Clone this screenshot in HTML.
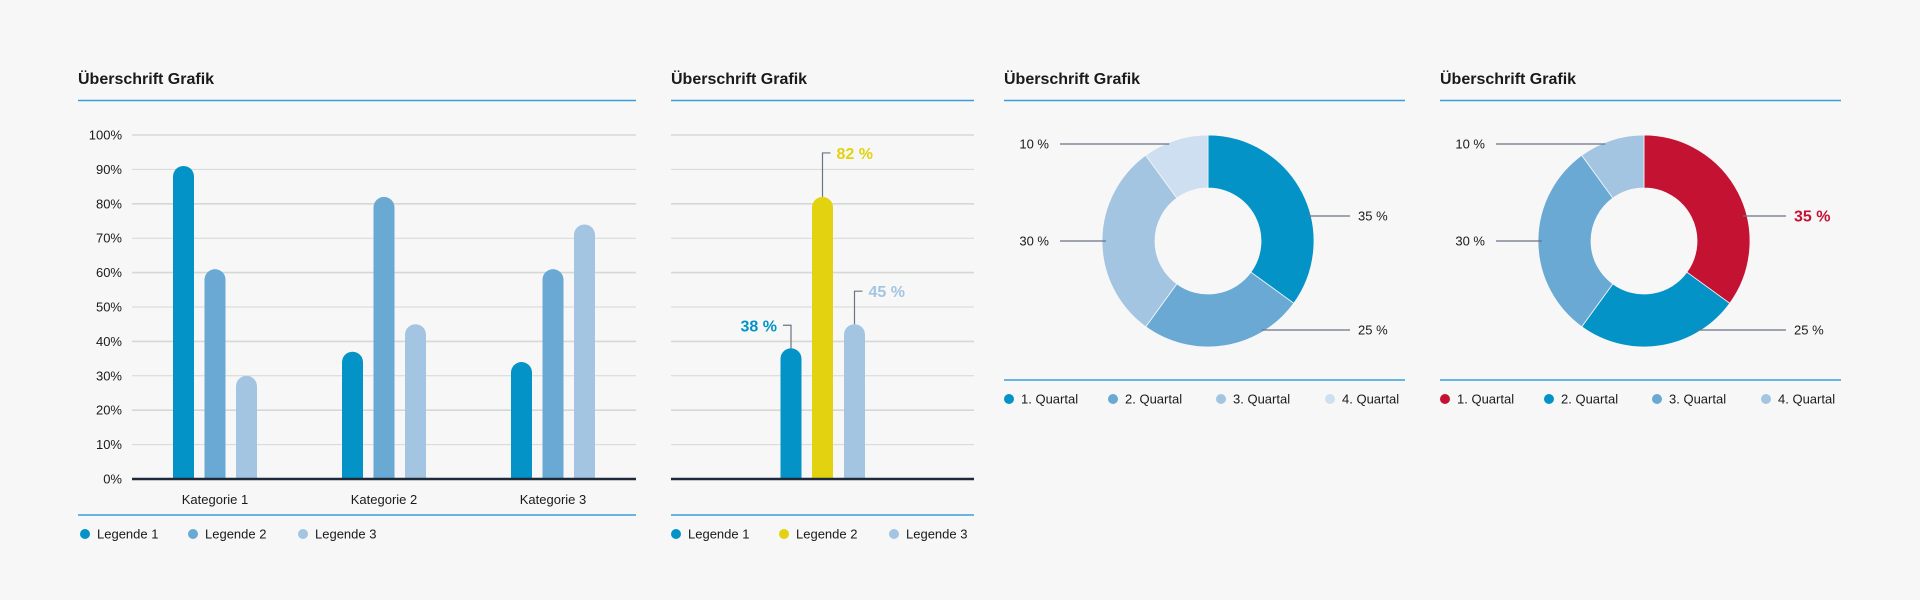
<!DOCTYPE html>
<html><head><meta charset="utf-8"><style>
html,body{margin:0;padding:0;background:#f7f7f7;}
svg{display:block;font-family:"Liberation Sans",sans-serif;}
</style></head><body>
<svg id="s" width="1920" height="600" viewBox="0 0 1920 600" xmlns="http://www.w3.org/2000/svg">
<rect width="1920" height="600" fill="#f7f7f7"/>
<g>
<text x="78" y="84" font-size="16" font-weight="bold" fill="#1a1a1a">Überschrift Grafik</text>
<line x1="78" y1="100.5" x2="636" y2="100.5" stroke="#3a9fd6" stroke-width="1.5"/>
</g>
<g>
<text x="671" y="84" font-size="16" font-weight="bold" fill="#1a1a1a">Überschrift Grafik</text>
<line x1="671" y1="100.5" x2="974" y2="100.5" stroke="#3a9fd6" stroke-width="1.5"/>
</g>
<g>
<text x="1004" y="84" font-size="16" font-weight="bold" fill="#1a1a1a">Überschrift Grafik</text>
<line x1="1004" y1="100.5" x2="1405" y2="100.5" stroke="#3a9fd6" stroke-width="1.5"/>
</g>
<g>
<text x="1440" y="84" font-size="16" font-weight="bold" fill="#1a1a1a">Überschrift Grafik</text>
<line x1="1440" y1="100.5" x2="1841" y2="100.5" stroke="#3a9fd6" stroke-width="1.5"/>
</g>
<g id="c1"></g>
<g id="c2"></g>
<g id="c3"></g>
<g id="c4"></g>
</svg>
<script>
const categories = ["Kategorie 1","Kategorie 2","Kategorie 3"];
const legend1 = ["Legende 1","Legende 2","Legende 3"];
const series1 = [91, 37, 34];
const series2 = [61, 82, 61];
const series3 = [30, 45, 74];
const yTicks = [0,10,20,30,40,50,60,70,80,90,100];
const bar2Values = [38, 82, 45];
const bar2Labels = ["38 %","82 %","45 %"];
const donutLabels = ["1. Quartal","2. Quartal","3. Quartal","4. Quartal"];
const donutValues = [35, 25, 30, 10];
const donutPctLabels = ["35 %","25 %","30 %","10 %"];

const NS = "http://www.w3.org/2000/svg";
function mk(parent, tag, attrs, text){
  const e = document.createElementNS(NS, tag);
  for (const k in attrs) e.setAttribute(k, attrs[k]);
  if (text !== undefined) e.textContent = text;
  parent.appendChild(e);
  return e;
}
const Y0 = 479, Y1 = 135;
function yScale(v){ return Y0 - (v/100)*(Y0-Y1); }
const blues = ["#0393c7","#69a9d4","#a3c5e2"];

function barPath(cx, w, v){
  const x = cx - w/2, top = yScale(v), r = w/2;
  return `M${x},${Y0} L${x},${top+r} A${r},${r} 0 0 1 ${x+w},${top+r} L${x+w},${Y0} Z`;
}
function grid(g, x1, x2){
  yTicks.forEach((t,i)=>{
    const l = mk(g,"line",{x1:x1,x2:x2,y1:yScale(t),y2:yScale(t),stroke:"#d6d8d6","stroke-width": (i%2===0?1.6:1)});
    
    
  });
}
function legend(g, labels, colors, xs, y, name){
  labels.forEach((lab,i)=>{
    const it = mk(g,"g",{});
    
    
    mk(it,"circle",{cx:xs[i],cy:y,r:5,fill:colors[i]});
    mk(it,"text",{x:xs[i]+12,y:y+4.5,"font-size":13,fill:"#1a1a1a"},lab);
  });
}

// Chart 1
(function(){
  const g = document.getElementById('c1');
  grid(g, 132, 636);
  yTicks.forEach(t=>{
    const tx = mk(g,"text",{x:122,y:yScale(t)+4.5,"text-anchor":"end","font-size":13,fill:"#1a1a1a"},t+"%");
    
    
  });
  const groupW = 169, c0 = 215, bw = 21, gap = 31.5;
  const all = [series1, series2, series3];
  categories.forEach((c,ci)=>{
    const cx = c0 + ci*groupW;
    all.forEach((s,si)=>{
      const p = mk(g,"path",{d:barPath(cx+(si-1)*gap,bw,s[ci]),fill:blues[si]});
      
      
    });
    const t = mk(g,"text",{x:cx,y:504,"text-anchor":"middle","font-size":13,fill:"#1a1a1a"},c);
    
    
  });
  const ax = mk(g,"line",{x1:132,x2:636,y1:Y0,y2:Y0,stroke:"#1e2a3a","stroke-width":2.5});
  
  
  const bl = mk(g,"line",{x1:78,x2:636,y1:515,y2:515,stroke:"#3a9fd6","stroke-width":1.5});
  
  
  legend(g, legend1, blues, [85,193,303], 534, 'chart1');
})();

// Chart 2
(function(){
  const g = document.getElementById('c2');
  grid(g, 671, 974);
  const cols = ["#0393c7","#e2d20f","#a3c5e2"];
  const xs = [791, 822.5, 854.5];
  const up = [23, 44, 33];
  bar2Values.forEach((v,i)=>{
    const p = mk(g,"path",{d:barPath(xs[i],21,v),fill:cols[i]});
    
    
    const top = yScale(v), ly = top - up[i];
    if (i===0){
      mk(g,"polyline",{points:`${xs[i]},${top} ${xs[i]},${ly} ${xs[i]-8},${ly}`,fill:"none",stroke:"#6b7385","stroke-width":1.2});
      const t = mk(g,"text",{x:xs[i]-14,y:ly+6,"text-anchor":"end","font-size":16,"font-weight":"bold",fill:cols[i]},bar2Labels[i]);
      
      
    } else {
      mk(g,"polyline",{points:`${xs[i]},${top} ${xs[i]},${ly} ${xs[i]+8},${ly}`,fill:"none",stroke:"#6b7385","stroke-width":1.2});
      const t = mk(g,"text",{x:xs[i]+14,y:ly+6,"font-size":16,"font-weight":"bold",fill:cols[i]},bar2Labels[i]);
      
      
    }
  });
  const ax = mk(g,"line",{x1:671,x2:974,y1:Y0,y2:Y0,stroke:"#1e2a3a","stroke-width":2.5});
  
  
  const bl = mk(g,"line",{x1:671,x2:974,y1:515,y2:515,stroke:"#3a9fd6","stroke-width":1.5});
  
  
  legend(g, legend1, cols, [676,784,894], 534, 'chart2');
})();

// Donuts
function donut(id, ox, colors, highlight){
  const g = document.getElementById(id);
  const cx = ox + 204, cy = 241, R = 106, r = 53;
  const labelY = [216, 330, 241, 144];
  const total = donutValues.reduce((a,b)=>a+b,0);
  let a0 = 0;
  const mids = [];
  donutValues.forEach((v,i)=>{
    const a1 = a0 + v/total*2*Math.PI;
    const pt = (rad,a)=>[cx+rad*Math.sin(a), cy-rad*Math.cos(a)];
    const [x1,y1]=pt(R,a0),[x2,y2]=pt(R,a1),[x3,y3]=pt(r,a1),[x4,y4]=pt(r,a0);
    const lg = (a1-a0)>Math.PI?1:0;
    const p = mk(g,"path",{d:`M${x1},${y1} A${R},${R} 0 ${lg} 1 ${x2},${y2} L${x3},${y3} A${r},${r} 0 ${lg} 0 ${x4},${y4} Z`,fill:colors[i],stroke:"#f7f7f7","stroke-width":0.8});
    
    
    mids.push((a0+a1)/2);
    a0 = a1;
  });
  mids.forEach((m,i)=>{
    const right = Math.sin(m) > 0;
    const ly = labelY[i % labelY.length];
    const ex = right ? cx+Math.sqrt(Math.max(0,R*R-(ly-cy)**2)) - 4 : cx-Math.sqrt(Math.max(0,R*R-(ly-cy)**2)) + 4;
    const lx2 = right ? ox+346 : ox+56;
    mk(g,"line",{x1:ex,y1:ly,x2:lx2,y2:ly,stroke:"#6b7385","stroke-width":1.2});
    const hi = highlight && i===0;
    const t = mk(g,"text",{x: right? ox+354 : ox+45, y: ly+(hi?5.5:4.5), "text-anchor": right?"start":"end","font-size": hi?16:13,"font-weight":hi?"bold":"normal",fill:hi?"#c41332":"#1a1a1a"},donutPctLabels[i]);
    
    
  });
  const bl = mk(g,"line",{x1:ox,x2:ox+401,y1:380,y2:380,stroke:"#3a9fd6","stroke-width":1.5});
  
  
  legend(g, donutLabels, colors, [ox+5,ox+109,ox+217,ox+326], 399, id);
}
donut('c3', 1004, ["#0393c7","#69a9d4","#a3c5e2","#cddff0"], false);
donut('c4', 1440, ["#c41332","#0393c7","#69a9d4","#a3c5e2"], true);
</script>
</body></html>
